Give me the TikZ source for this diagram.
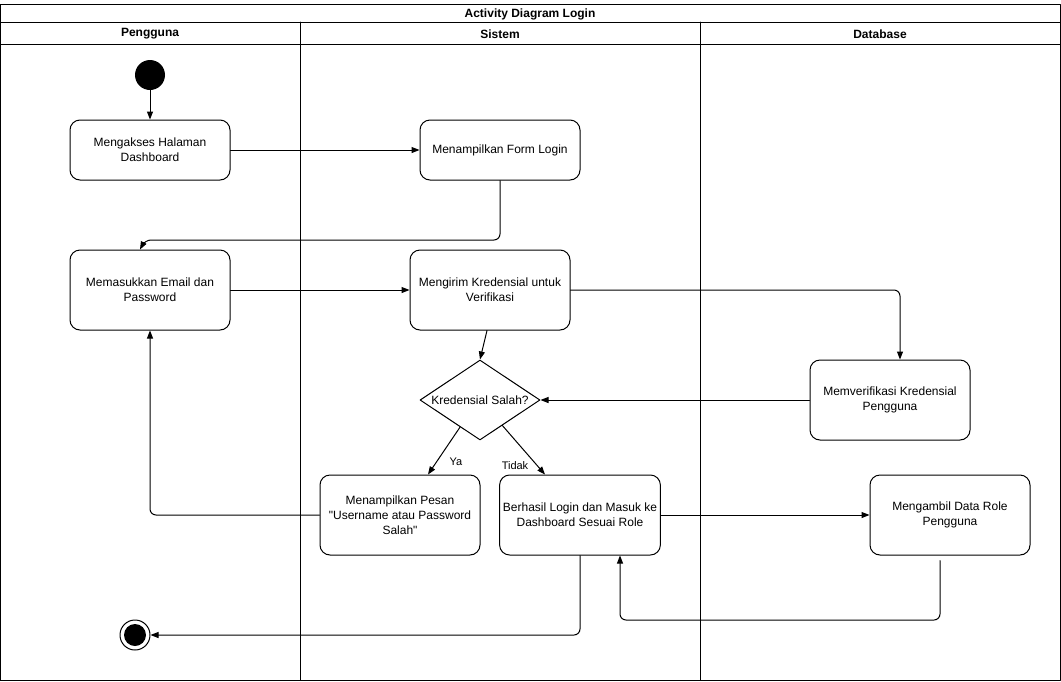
\documentclass[tikz,border=0pt]{standalone}
\usepackage{fontspec}
\setmainfont{Liberation Sans}
\usetikzlibrary{arrows.meta,shapes.geometric,calc}

\begin{document}
\begin{tikzpicture}[
  x=1pt,
  y=-1pt,
  line cap=round,
  line join=round,
  every node/.style={font=\fontsize{12}{15}\selectfont},
  lane/.style={line width=1pt},
  activity/.style={
    draw,
    line width=1pt,
    rounded corners=10pt,
    minimum width=160pt,
    minimum height=60pt,
    align=center
  },
  decision/.style={
    draw,
    diamond,
    line width=1pt,
    minimum width=120pt,
    minimum height=80pt,
    inner sep=0pt
  },
  initstate/.style={circle,fill=black,minimum size=30pt,inner sep=0pt},
  finalstate/.style={
    circle,
    draw,
    line width=1pt,
    minimum size=30pt,
    inner sep=0pt,
    path picture={\fill (path picture bounding box.center) circle (11pt);}
  },
  flow/.style={
    line width=1pt,
    rounded corners=6pt,
    -{Triangle[length=8pt,width=6pt]}
  },
  guard/.style={font=\fontsize{11}{13}\selectfont}
]
  \useasboundingbox (0,0) rectangle (1061,681);

  % Kerangka swimlane
  \draw[lane] (0,4) rectangle (1060,680);
  \draw[lane] (0,22) -- (1060,22);
  \draw[lane] (0,44) -- (1060,44);
  \draw[lane] (300,22) -- (300,680);
  \draw[lane] (700,22) -- (700,680);

  \node (title) at (530,14) {\bfseries Activity Diagram Login};
  \node (hPengguna) at (150,34) {\bfseries Pengguna};
  \node (hSistem) at (500,34) {\bfseries Sistem};
  \node (hDatabase) at (880,34) {\bfseries Database};

  % Aktivitas
  \node[initstate] (start) at (150,75) {};
  \node[activity] (akses) at (150,150) {Mengakses Halaman\\Dashboard};
  \node[activity] (form) at (500,150) {Menampilkan Form Login};
  \node[activity,minimum height=80pt] (masuk) at (150,290)
    {Memasukkan Email dan\\Password};
  \node[activity,minimum height=80pt] (kirim) at (490,290)
    {Mengirim Kredensial untuk\\Verifikasi};
  \node[decision,label=center:Kredensial Salah?] (cek) at (480,400) {};
  \node[activity,minimum height=80pt] (verif) at (890,400)
    {Memverifikasi Kredensial\\Pengguna};
  \node[activity,minimum height=80pt] (pesan) at (400,515)
    {Menampilkan Pesan\\\textquotedbl Username atau Password\\Salah\textquotedbl};
  \node[activity,minimum height=80pt] (sukses) at (580,515)
    {Berhasil Login dan Masuk ke\\Dashboard Sesuai Role};
  \node[activity,minimum height=80pt] (role) at (950,515)
    {Mengambil Data Role\\Pengguna};
  \node[finalstate] (end) at (135,635) {};

  % Alur
  \draw[flow] (start) -- (akses);
  \draw[flow] (akses) -- (form);
  \draw[flow] (form.south) |- (145,240) -- ([xshift=-10pt]masuk.north);
  \draw[flow] (masuk) -- (kirim);
  \draw[flow] (kirim.east) -| ([xshift=10pt]verif.north);
  \draw[flow] ([xshift=-3pt]kirim.south) -- (cek.north);
  \draw[flow] (verif) -- (cek);

  \draw[flow] ($(cek.west)!0.67!(cek.south)$) -- ([xshift=28pt]pesan.north);
  \draw[flow] ($(cek.south)!0.37!(cek.east)$) -- ([xshift=-35pt]sukses.north);
  \node[guard] (ya) at (456,462) {Ya};
  \node[guard] (tidak) at (515,466) {Tidak};

  \draw[flow] (pesan.west) -| (masuk.south);
  \draw[flow] (sukses) -- (role);
  \draw[flow] ([shift={(-10,5)}]role.south) -- (940,620) -- (620,620)
    -- ([xshift=40pt]sukses.south);
  \draw[flow] (sukses.south) |- (end);
\end{tikzpicture}
\end{document}
